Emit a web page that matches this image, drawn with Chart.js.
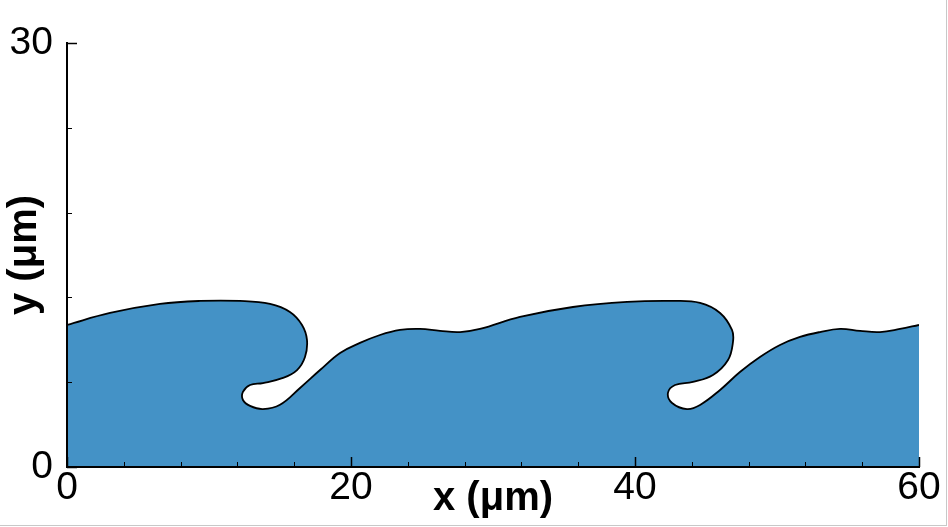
<!DOCTYPE html>
<html>
<head>
<meta charset="utf-8">
<script src="https://cdn.jsdelivr.net/npm/chart.js@4.4.0/dist/chart.umd.min.js"></script>
<style>
    body { margin: 0; background: #fff; }
    #wrap { width: 946px; height: 525px; border-right: 1px solid #c8c8c8; border-bottom: 1px solid #c8c8c8; }
</style>
</head>
<body>
<div id="wrap"><canvas id="chart1" width="946" height="525"></canvas></div>
<script>
// interface outline (x and y in um)
const waveX = [0, 3.03, 6.55, 9.37, 12.18, 14.30, 15.70, 16.55, 16.90, 16.76, 16.20, 15.21, 13.80, 12.89, 12.39, 12.39, 12.89, 13.80,
    15.00, 16.41, 17.82, 19.23, 20.63, 22.04, 23.45, 24.86, 26.27, 27.68, 29.08, 31.90, 35.63, 39.44, 42.68, 44.58, 45.99, 46.83,
    46.90, 46.55, 45.49, 44.08, 42.82, 42.32, 42.61, 43.66, 44.58, 45.99, 47.39, 48.80, 50.21, 51.62, 53.03, 54.44, 55.85, 57.25,
    58.66, 60];
const waveY = [10.05, 10.90, 11.54, 11.75, 11.75, 11.54, 10.97, 10.05, 8.99, 7.78, 6.86, 6.30, 5.94, 5.80, 5.31, 4.74, 4.32, 4.10,
    4.40, 5.59, 6.86, 8.07, 8.78, 9.34, 9.70, 9.77, 9.63, 9.55, 9.77, 10.62, 11.32, 11.68, 11.75, 11.61, 10.90, 9.70,
    8.85, 7.57, 6.51, 6.02, 5.80, 5.24, 4.53, 4.10, 4.39, 5.45, 6.72, 7.78, 8.63, 9.20, 9.55, 9.77, 9.63, 9.55,
    9.77, 10.05];

const xTickLabels = [0, 20, 40, 60];
const yTickLabels = [0, 30];
const xMinorTicks = [4, 8, 12, 16, 24, 28, 32, 36, 44, 48, 52, 56];
const yMinorTicks = [6, 12, 18, 24];

const fillColor = '#4492c6';

// tecplot style ticks: pointing into the plot, long for majors, short for minors
const insideTicks = {
    id: 'insideTicks',
    afterDraw(chart) {
        const ctx = chart.ctx;
        const area = chart.chartArea;
        const xs = chart.scales.x;
        const ys = chart.scales.y;
        ctx.save();
        ctx.strokeStyle = '#000';
        const mark = (v, len, horiz) => {
            ctx.beginPath();
            if (horiz) {
                const p = Math.round(xs.getPixelForValue(v)) + 0.5;
                ctx.moveTo(p, area.bottom);
                ctx.lineTo(p, area.bottom - len);
            } else {
                const p = Math.round(ys.getPixelForValue(v)) + 0.5;
                ctx.moveTo(area.left, p);
                ctx.lineTo(area.left + len, p);
            }
            ctx.stroke();
        };
        ctx.lineWidth = 1.5;
        xTickLabels.forEach(v => mark(v, 10, true));
        yTickLabels.forEach(v => mark(v, 10, false));
        ctx.lineWidth = 1;
        xMinorTicks.forEach(v => mark(v, 5, true));
        yMinorTicks.forEach(v => mark(v, 5, false));
        ctx.restore();
    }
};

function createWaveChart() {
    const ctx = document.querySelector('#chart1').getContext('2d');
    const points = waveX.map((x, i) => ({x: x, y: waveY[i]}));

    new Chart(ctx, {
        type: 'scatter',
        data: {
            datasets: [{
                data: points,
                showLine: true,
                fill: 'origin',
                backgroundColor: fillColor,
                borderColor: '#000',
                borderWidth: 1.8,
                tension: 0.4,
                pointRadius: 0
            }]
        },
        options: {
            responsive: false,
            animation: false,
            layout: {padding: {top: 43, right: 27, left: 0, bottom: 0}},
            plugins: {
                legend: {display: false},
                tooltip: {enabled: false}
            },
            scales: {
                x: {
                    type: 'linear',
                    min: 0,
                    max: 60,
                    afterFit: s => { s.height = 58; },
                    afterBuildTicks: s => { s.ticks = xTickLabels.map(v => ({value: v})); },
                    grid: {display: false, drawTicks: false},
                    border: {display: true, color: '#000', width: 2, z: 1},
                    ticks: {
                        color: '#000',
                        padding: 2,
                        maxRotation: 0,
                        autoSkip: false,
                        font: {family: 'Liberation Sans', size: 39, lineHeight: 1}
                    },
                    title: {
                        display: true,
                        text: 'x (μm)',
                        color: '#000',
                        padding: {top: 0, bottom: 2},
                        font: {family: 'Liberation Sans', size: 40, weight: 'bold', lineHeight: 1.2}
                    }
                },
                y: {
                    type: 'linear',
                    min: 0,
                    max: 30,
                    afterFit: s => { s.width = 67; },
                    afterBuildTicks: s => { s.ticks = yTickLabels.map(v => ({value: v})); },
                    grid: {display: false, drawTicks: false},
                    border: {display: true, color: '#000', width: 2, z: 1},
                    ticks: {
                        color: '#000',
                        padding: 14,
                        autoSkip: false,
                        font: {family: 'Liberation Sans', size: 39, lineHeight: 1}
                    },
                    title: {
                        display: true,
                        text: 'y (μm)',
                        color: '#000',
                        padding: {top: 1, bottom: 0},
                        font: {family: 'Liberation Sans', size: 40, weight: 'bold', lineHeight: 1.2}
                    }
                }
            }
        },
        plugins: [insideTicks]
    });
}

createWaveChart();
</script>
</body>
</html>
